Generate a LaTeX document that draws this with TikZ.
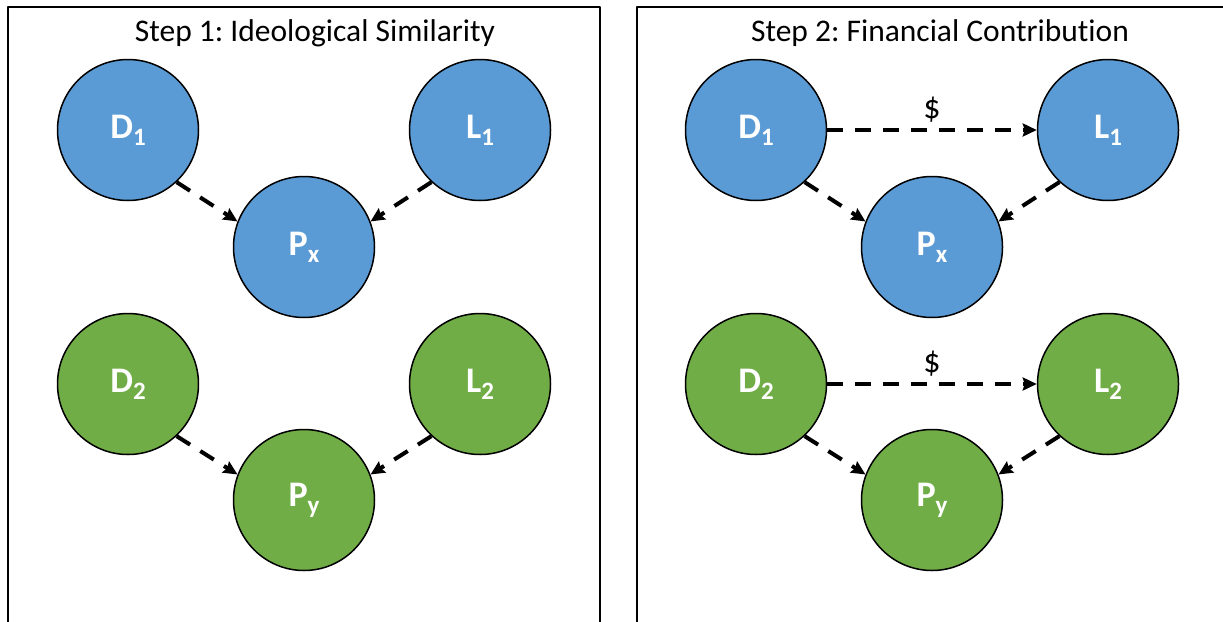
\documentclass[tikz,border=0pt]{standalone}
\usepackage{fontspec}
\setmainfont{Carlito}[Ligatures=NoCommon]
\frenchspacing
\usetikzlibrary{arrows.meta}
\definecolor{Bnode}{RGB}{91,155,213}
\definecolor{Gnode}{RGB}{112,173,71}
\newcommand{\lowidx}[1]{\raisebox{-7pt}{\fontsize{25}{26}\selectfont #1}}

\begin{document}
\begin{tikzpicture}[x=1pt,y=-1pt,line join=round,
  agent/.style={circle,draw,line width=1.5pt,minimum size=141pt,inner sep=0pt,text=white,font=\bfseries\fontsize{36}{38}\selectfont},
  link/.style={line width=4pt,dash pattern=on 16pt off 12pt,-{Stealth[length=14pt,width=13pt,inset=2pt]}},
  panel/.style={line width=2pt},
  heading/.style={anchor=base,font=\fontsize{31.5}{34}\selectfont},
  money/.style={above=2pt,font=\fontsize{34}{36}\selectfont}]
\path[use as bounding box] (0,0) rectangle (1223,621);
\clip (0,0) rectangle (1223,621);
% panels
\draw[panel] (8,660) -- (8,7) -- (600,7) -- (600,660);
\draw[panel] (637,660) -- (637,7) -- (1240,7);
\node[heading] (title1) at (315,41) {Step 1: Ideological Similarity};
\node[heading] (title2) at (940,41) {Step 2: Financial Contribution};
% step 1
\node[agent,fill=Bnode] (D1) at (128,130) {D\lowidx{1}};
\node[agent,fill=Bnode] (L1) at (480,130) {L\lowidx{1}};
\node[agent,fill=Bnode] (Px) at (304,247) {P\lowidx{x}};
\node[agent,fill=Gnode] (D2) at (128,384) {D\lowidx{2}};
\node[agent,fill=Gnode] (L2) at (480,384) {L\lowidx{2}};
\node[agent,fill=Gnode] (Py) at (304,500) {P\lowidx{y}};
\draw[link] (D1.-47) -- (Px.159);
\draw[link] (L1.-133) -- (Px.21);
\draw[link] (D2.-47) -- (Py.159);
\draw[link] (L2.-133) -- (Py.21);
% step 2
\node[agent,fill=Bnode] (rD1) at (756,130) {D\lowidx{1}};
\node[agent,fill=Bnode] (rL1) at (1108,130) {L\lowidx{1}};
\node[agent,fill=Bnode] (rPx) at (932,247) {P\lowidx{x}};
\node[agent,fill=Gnode] (rD2) at (756,384) {D\lowidx{2}};
\node[agent,fill=Gnode] (rL2) at (1108,384) {L\lowidx{2}};
\node[agent,fill=Gnode] (rPy) at (932,500) {P\lowidx{y}};
\draw[link] (rD1.-47) -- (rPx.159);
\draw[link] (rL1.-133) -- (rPx.21);
\draw[link] (rD2.-47) -- (rPy.159);
\draw[link] (rL2.-133) -- (rPy.21);
\draw[link] (rD1.east) -- node[money] (pay1) {\$} (rL1.west);
\draw[link] (rD2.east) -- node[money] (pay2) {\$} (rL2.west);
\end{tikzpicture}
\end{document}
